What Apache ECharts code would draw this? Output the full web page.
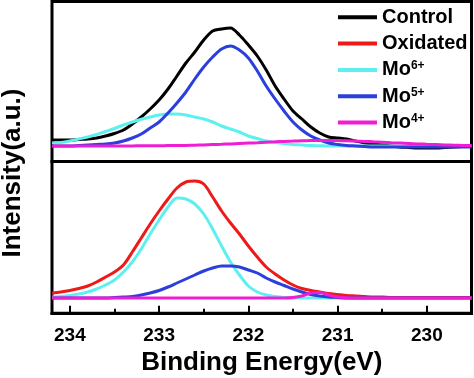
<!DOCTYPE html>
<html><head><meta charset="utf-8">
<script src="https://cdn.jsdelivr.net/npm/echarts@6/dist/echarts.min.js"></script>
<style>html,body{margin:0;padding:0;background:#fff}#c{width:474px;height:378px}</style>
</head><body><div id="c"></div>
<script>
// Binding energy (eV), shared by all curves
const energy = [234.2,234.1,234.0,233.9,233.8,233.7,233.6,233.5,233.4,233.3,
  233.2,233.1,233.0,232.9,232.8,232.7,232.6,232.5,232.4,232.3,
  232.2,232.1,232.0,231.9,231.8,231.7,231.6,231.5,231.4,231.3,
  231.2,231.1,231.0,230.9,230.8,230.7,230.6,230.5,230.4,230.3,
  230.2,230.1,230.0,229.9,229.8,229.7,229.6,229.5];

// Top panel (Control)
const controlTop = [6,6,6,6.5,7,8,10,12.5,16,22,29,37,46,57,70,83,94,106,115,117,
  118,111,101,90,76,60,47,35,27,19,13,9,8,7,5,3,2,1,0,-1,-1.5,-2,-2,-2,-1.5,-1,-0.5,0];
const mo6Top = [3,3.5,5,7,9,11.5,14.5,17.5,21,24,26.7,29,31,32,32,31,29,27,24,20,
  17,14,10,7.5,5,3.5,2.5,1.5,1,0.5,0.3,0,0,0,0,0,0,0,0,0,0,0,0,0,0,0,0,0];
const mo5Top = [0,0,0,0.5,1,1.5,2,3,5,8,12,18,24,33,43,54,67,79,89,97,
  100,96,88,75,60,47,35,24,16,10,6,3,1.5,0.5,0,-0.5,-1,-1,-1,-1,-1,-1,-1,-1,-1,-1,-1,-1];
const mo4Top = [0,0,0,0,0,0,0,0,0.1,0.1,0.2,0.2,0.3,0.4,0.5,0.6,0.8,1.1,1.4,1.7,
  2.1,2.5,2.9,3.3,3.8,4.2,4.6,4.9,5.2,5.4,5.5,5.5,5.4,5.2,4.9,4.6,4.2,3.8,3.3,2.9,
  2.5,2.1,1.7,1.4,1.1,0.8,0.6,0.5];

// Bottom panel (Oxidated)
const oxidatedBot = [5,6,7.5,9.5,12,16,21,26,33,46,60,74,87,99,110,116,117,114,101,87,
  75,64,52,41,31,24,18,13,9.5,7.5,6,4.5,3.5,2.5,2,1.5,1,1,0.5,0.5,0.5,0.5,0.5,0.5,0.5,0.5,0.5,0.5];
const mo6Bot = [1,1.5,2.5,4,6,9,13,18,26,36,49,64,78,91,100,99,94,84,69,52,
  36,23,12,6,3,1.5,0.5,0,0,0,0,0,0,0,0,0,0,0,0,0,0,0,0,0,0,0,0,0];
const mo5Bot = [0,0,0,0,0,0,0,0.5,1,1.5,3,5,7.5,11,15,19,23,27,30,32,
  32,31,28,25,20,16,12.5,9,6,3.5,2,1,0.5,0,0,0,0,0,0,0,0,0,0,0,0,0,0,0];
const mo4Bot = [0,0,0,0,0,0,0,0,0,0,0,0,0,0,0,0,0,0,0,0,
  0,0,0,0,0,0,0,0.5,2,5,5.5,3,1,0.3,0,0,0,0,0,0,0,0,0,0,0,0,0,0];

const xTickLabels = [234,233,232,231,230];
const legendNames = ['Control','Oxidated','Mo6+','Mo5+','Mo4+'];
const colors = {Control:'#000000', Oxidated:'#ee1a1a', 'Mo6+':'#5ef0f0', 'Mo5+':'#2b3fdc', 'Mo4+':'#f01ed2'};

const FONT = '"Liberation Sans", Arial, sans-serif';
const XMIN = 229.5, XMAX = 234.2;

function mk(name, vals, panel, z) {
  return {
    name, type:'line', xAxisIndex: panel === 0 ? 0 : 1, yAxisIndex: panel,
    data: energy.map((e,i)=>[e, vals[i]]),
    symbol:'none', showSymbol:false, smooth:0.3, z,
    lineStyle:{color:colors[name], width:3}, itemStyle:{color:colors[name]},
    animation:false
  };
}

const chart = echarts.init(document.getElementById('c'), null, {renderer:'canvas'});
chart.setOption({
  animation:false,
  backgroundColor:'#fff',
  grid:[
    {left:52, top:1.5, width:419.5, height:160, outerBoundsMode:'none', containLabel:false,
      show:true, borderColor:'#000', borderWidth:3, backgroundColor:'transparent'},
    {left:52, top:161.5, width:419.5, height:151.8, outerBoundsMode:'none', containLabel:false,
      show:true, borderColor:'#000', borderWidth:3, backgroundColor:'transparent'}
  ],
  xAxis:[
    {gridIndex:0, type:'value', min:XMIN, max:XMAX, inverse:true, show:false},
    {gridIndex:1, type:'value', position:'bottom', min:XMIN, max:XMAX, inverse:true, interval:0.5,
      axisLine:{show:true, onZero:false, lineStyle:{color:'#000', width:3}},
      axisTick:{show:true, inside:true, length:4.5, lineStyle:{color:'#000', width:2}},
      axisLabel:{show:false}, splitLine:{show:false}, z:10},
    {gridIndex:1, type:'value', position:'bottom', min:XMIN, max:XMAX, inverse:true, splitNumber:5,
      axisLine:{show:true, onZero:false, lineStyle:{color:'#000', width:3}},
      axisTick:{show:true, inside:true, length:7.5, lineStyle:{color:'#000', width:2}},
      axisLabel:{show:true, margin:13, showMinLabel:false, showMaxLabel:false,
        fontSize:19, fontWeight:'bold', color:'#000', fontFamily:FONT,
        formatter: v => xTickLabels.includes(Math.round(v*10)/10) ? String(Math.round(v)) : ''},
      splitLine:{show:false}, z:10,
      name:'Binding Energy(eV)', nameLocation:'middle', nameGap:37,
      nameTextStyle:{fontSize:26, fontWeight:'bold', color:'#000', fontFamily:FONT}}
  ],
  yAxis:[
    {gridIndex:0, type:'value', min:-15.5, max:144.5, show:false},
    {gridIndex:1, type:'value', min:-15.3, max:136.5, show:false}
  ],
  legend:{
    orient:'vertical', left:338, top:7.3, padding:0, itemWidth:39, itemHeight:4, itemGap:6.3,
    icon:'rect', data:legendNames,
    formatter: n => n.startsWith('Mo') ? '{b|Mo}{s|' + n.slice(2) + '}' : '{b|' + n + '}',
    textStyle:{color:'#000', fontFamily:FONT, fontWeight:'bold', fontSize:20,
      rich:{
        b:{fontSize:20, fontWeight:'bold', fontFamily:FONT, color:'#000', lineHeight:20},
        s:{fontSize:12, fontWeight:'bold', fontFamily:FONT, color:'#000', lineHeight:12, verticalAlign:'top'}
      }}
  },
  graphic:[{
    type:'text', x:13, y:173, rotation:Math.PI/2,
    style:{text:'Intensity(a.u.)', font:'bold 26px ' + FONT, fill:'#000',
      align:'center', verticalAlign:'middle', textAlign:'center', textVerticalAlign:'middle'}
  }],
  series:[
    mk('Control', controlTop, 0, 2),
    mk('Mo6+', mo6Top, 0, 3),
    mk('Mo5+', mo5Top, 0, 4),
    mk('Mo4+', mo4Top, 0, 5),
    mk('Oxidated', oxidatedBot, 1, 3),
    mk('Mo6+', mo6Bot, 1, 2),
    mk('Mo5+', mo5Bot, 1, 4),
    mk('Mo4+', mo4Bot, 1, 5)
  ]
});
</script></body></html>
